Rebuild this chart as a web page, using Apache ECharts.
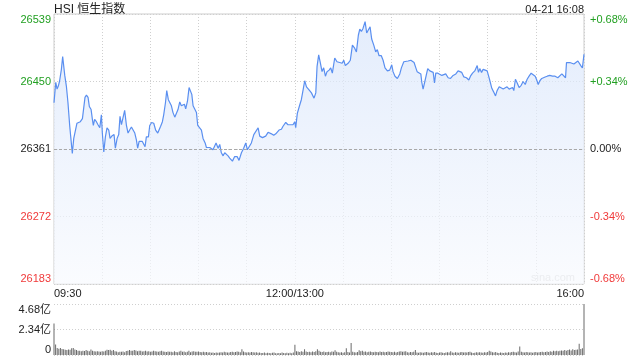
<!DOCTYPE html>
<html><head><meta charset="utf-8">
<script src="https://cdn.jsdelivr.net/npm/echarts@6/dist/echarts.min.js"></script>
<style>html,body{margin:0;padding:0;background:#fff}#c{width:640px;height:360px}</style>
</head><body><div id="c"></div>
<script>
const titleText = 'HSI 恒生指数';
const stampText = '04-21 16:08';
const watermark = 'sina.com';
const prevClose = 26361;
const priceTicks = [26183, 26272, 26361, 26450, 26539];
const pctTicks = ['-0.68%', '-0.34%', '0.00%', '+0.34%', '+0.68%'];
const volTicks = ['0', '2.34亿', '4.68亿'];
const timeTicks = {0: '09:30', 150: '12:00/13:00', 330: '16:00'};

// minutes since 09:30 (lunch break removed) and index level
const lineMin = [0.0,1.1,1.9,2.7,3.5,4.6,5.4,6.7,7.7,8.7,9.8,10.6,11.4,12.3,13.3,14.3,15.2,16.4,17.7,18.5,19.3,20.2,21.2,22.0,23.1,23.9,24.5,25.3,26.4,27.4,28.5,29.5,30.1,31.0,32.0,33.0,34.1,34.9,36.0,36.8,37.4,38.2,39.3,40.3,41.1,42.0,43.0,44.0,45.1,46.1,47.1,48.2,49.2,50.3,51.3,52.1,53.0,53.8,55.0,55.9,56.7,57.5,58.8,59.6,60.8,62.1,63.3,64.6,65.4,66.4,67.5,68.3,69.4,70.2,71.2,72.1,73.1,74.1,75.2,76.2,77.2,78.3,79.3,80.4,81.2,82.0,83.1,84.1,84.9,85.8,86.6,87.6,88.7,89.5,90.7,91.8,92.8,94.1,94.9,96.1,97.0,98.0,99.0,99.9,100.9,102.2,
103.2,104.2,105.3,106.3,107.4,108.4,109.4,111.1,112.5,114.0,115.2,116.7,118.1,119.4,120.4,121.5,122.9,124.4,125.6,127.1,128.1,129.8,131.8,133.3,134.3,135.4,136.8,138.1,138.9,140.1,141.6,142.6,144.3,145.7,147.2,148.8,149.9,150.5,151.5,153.0,154.0,155.1,156.1,157.2,158.8,160.3,161.9,163.0,163.8,164.8,165.9,166.9,167.9,169.0,170.0,171.3,172.3,173.3,174.8,176.2,177.9,179.4,180.4,181.4,183.1,184.5,185.8,187.2,188.3,189.5,190.4,191.4,192.4,193.7,194.7,195.7,196.8,197.8,199.1,200.3,201.3,202.4,203.8,204.9,206.1,207.6,209.0,210.3,211.1,212.3,213.8,
215.3,216.3,217.8,219.0,220.5,222.2,223.2,224.2,225.3,226.1,227.3,228.4,229.0,229.8,230.9,231.5,232.7,234.0,235.0,236.1,236.9,237.7,239.0,240.2,241.5,242.7,243.9,245.4,246.9,248.5,250.2,251.6,252.7,253.9,255.2,256.8,258.3,259.3,260.6,262.0,263.5,264.3,265.1,266.2,267.2,268.4,269.7,270.5,271.4,272.6,273.8,274.9,275.9,277.2,278.4,279.7,280.9,282.1,283.4,284.2,285.5,286.3,287.3,288.4,289.6,290.9,292.1,293.4,294.6,295.8,297.1,298.3,299.6,300.4,301.5,302.5,303.7,304.6,305.8,307.1,308.7,310.4,312.0,313.7,314.9,316.2,317.4,318.5,319.1,320.1,321.2,322.4,323.7,324.9,326.2,327.0,328.0,329.0,330.0];
const linePrice = [26422,26449,26440,26444,26451,26466,26483,26458,26444,26422,26391,26373,26355,26375,26373,26395,26397,26397,26401,26402,26429,26432,26429,26417,26413,26400,26392,26400,26397,26393,26389,26406,26382,26357,26377,26389,26386,26375,26378,26377,26380,26362,26375,26380,26404,26393,26393,26412,26392,26382,26386,26390,26389,26382,26373,26362,26371,26371,26371,26370,26364,26377,26377,26392,26396,26395,26386,26382,26382,26391,26397,26406,26422,26438,26426,26426,26418,26409,26403,26402,26413,26423,26418,26417,26420,26414,26424,26442,26440,26433,26418,26418,26409,26392,26391,26386,26375,26369,26363,26364,26363,26362,26360,26358,26369,26362,
26367,26356,26352,26356,26357,26352,26349,26345,26351,26351,26346,26356,26362,26369,26360,26360,26369,26380,26382,26389,26378,26376,26378,26383,26384,26381,26379,26381,26379,26386,26387,26391,26396,26393,26393,26393,26397,26389,26408,26419,26426,26439,26451,26443,26439,26435,26428,26435,26470,26485,26474,26463,26468,26457,26463,26465,26468,26461,26481,26476,26475,26474,26478,26471,26474,26478,26498,26494,26489,26511,26519,26516,26520,26529,26514,26518,26522,26506,26498,26489,26492,26484,26484,26478,26468,26464,26465,26472,26463,26457,26454,
26460,26468,26476,26478,26477,26478,26477,26475,26468,26463,26462,26460,26449,26440,26450,26451,26467,26464,26463,26462,26448,26461,26461,26462,26458,26457,26460,26455,26454,26458,26460,26464,26465,26462,26456,26455,26452,26457,26461,26464,26471,26462,26467,26462,26466,26467,26464,26458,26451,26441,26436,26431,26438,26443,26445,26440,26439,26443,26440,26438,26442,26438,26453,26448,26442,26445,26450,26446,26453,26457,26461,26460,26457,26453,26446,26451,26454,26453,26456,26457,26458,26457,26457,26455,26454,26460,26462,26455,26475,26476,26475,26477,26473,26475,26477,26475,26471,26468,26486];

// per-minute turnover, 亿
const volume = [
2.88,0.96,0.64,0.58,0.64,0.55,0.52,0.48,0.45,0.51,
0.48,0.62,0.64,0.51,0.45,0.38,0.40,0.35,0.38,0.36,
0.45,0.38,0.35,0.51,0.38,0.35,0.32,0.35,0.32,0.30,
0.35,0.32,0.38,0.48,0.45,0.48,0.40,0.45,0.35,0.32,
0.26,0.29,0.30,0.32,0.26,0.36,0.38,0.45,0.40,0.38,
0.45,0.42,0.35,0.40,0.38,0.32,0.35,0.38,0.32,0.35,
0.30,0.32,0.38,0.35,0.32,0.30,0.35,0.38,0.32,0.30,
0.28,0.32,0.30,0.29,0.26,0.35,0.28,0.26,0.32,0.38,
0.30,0.32,0.26,0.29,0.38,0.26,0.32,0.35,0.30,0.29,
0.32,0.28,0.26,0.29,0.26,0.28,0.22,0.25,0.20,0.23,
0.19,0.22,0.20,0.24,0.26,0.22,0.30,0.26,0.24,0.22,
0.28,0.30,0.26,0.28,0.32,0.30,0.26,0.53,0.32,0.26,
0.22,0.25,0.22,0.28,0.26,0.22,0.25,0.20,0.22,0.18,
0.19,0.22,0.16,0.20,0.18,0.15,0.20,0.22,0.17,0.16,
0.19,0.16,0.22,0.18,0.15,0.20,0.17,0.20,0.16,0.22,
0.94,0.35,0.32,0.28,0.35,0.30,0.53,0.32,0.28,0.30,
0.26,0.32,0.28,0.35,0.53,0.38,0.30,0.28,0.32,0.26,
0.28,0.30,0.26,0.32,0.30,0.44,0.30,0.26,0.22,0.25,
0.20,0.26,0.62,0.28,0.22,1.09,0.30,0.25,0.22,0.28,
0.44,0.35,0.38,0.30,0.32,0.26,0.30,0.32,0.28,0.26,
0.30,0.28,0.26,0.32,0.28,0.30,0.26,0.28,0.32,0.30,
0.28,0.26,0.30,0.22,0.28,0.32,0.35,0.30,0.32,0.35,
0.25,0.22,0.28,0.25,0.30,0.47,0.22,0.20,0.25,0.22,
0.20,0.25,0.28,0.22,0.20,0.25,0.22,0.28,0.20,0.18,
0.22,0.25,0.20,0.18,0.22,0.26,0.22,0.35,0.22,0.20,
0.25,0.22,0.20,0.25,0.28,0.22,0.25,0.22,0.28,0.30,
0.22,0.18,0.20,0.25,0.22,0.26,0.22,0.20,0.25,0.22,
0.28,0.40,0.32,0.25,0.22,0.28,0.20,0.18,0.22,0.20,
0.18,0.22,0.20,0.25,0.22,0.28,0.30,0.25,0.22,0.32,
0.78,0.30,0.25,0.22,0.28,0.25,0.22,0.26,0.20,0.25,
0.28,0.22,0.25,0.28,0.30,0.25,0.28,0.32,0.28,0.35,
0.30,0.38,0.35,0.40,0.35,0.38,0.42,0.40,0.47,0.38,
0.45,0.50,0.42,0.53,0.45,0.48,0.50,1.03,0.56,0.62,
4.68];

const FONT = 'Arial, "Liberation Sans", "Noto Sans CJK SC", sans-serif';
const range = priceTicks[4] - prevClose;   // 178
const step = priceTicks[3] - prevClose;    // 89
const green = '#22a022', red = '#f03a3a', dark = '#222';
function sideColor(v) { return v > 0.001 ? green : (v < -0.001 ? red : dark); }

const lineData = lineMin.map((m, i) => [m, linePrice[i] - prevClose]);
const volData = volume.map((v, i) => [i, v]);

const chart = echarts.init(document.getElementById('c'), null, {renderer: 'canvas'});
chart.setOption({
  animation: false,
  backgroundColor: '#fff',
  textStyle: {fontFamily: FONT},
  title: [
    {text: titleText, left: 54, top: 4, padding: 0,
     textStyle: {fontSize: 12, fontWeight: 'normal', color: dark, fontFamily: FONT}},
    {text: stampText, right: 56, top: 4, padding: 0,
     textStyle: {fontSize: 11, fontWeight: 'normal', color: dark, fontFamily: FONT}}
  ],
  graphic: [{type: 'text', left: 531, top: 272, silent: true,
    style: {text: watermark, fill: '#cfcfcf', font: '11px ' + FONT}}],
  grid: [
    {left: 54, right: 56, top: 14, height: 270, show: true, borderColor: '#cccccc', borderWidth: 1, backgroundColor: 'transparent'},
    {left: 54, right: 56, top: 304, height: 51}
  ],
  xAxis: [
    {type: 'value', gridIndex: 0, min: 0, max: 330, interval: 30,
     axisLine: {show: false}, axisTick: {show: false},
     splitLine: {show: true, lineStyle: {color: '#cfcfcf', type: [1, 2], width: 1}},
     axisLabel: {fontSize: 11, color: dark, margin: 4, fontFamily: FONT,
       alignMinLabel: 'left', alignMaxLabel: 'right',
       formatter: v => timeTicks[Math.round(v)] || ''}},
    {type: 'value', gridIndex: 1, min: 0, max: 330, show: false}
  ],
  yAxis: [
    {type: 'value', gridIndex: 0, min: -range, max: range, interval: step,
     axisLine: {show: false}, axisTick: {show: false},
     splitLine: {show: true, lineStyle: {color: '#cfcfcf', type: [1, 2], width: 1}},
     axisLabel: {fontSize: 11, margin: 3, fontFamily: FONT,
       verticalAlignMinLabel: 'bottom', verticalAlignMaxLabel: 'top',
       color: v => sideColor(v),
       formatter: v => String(priceTicks[Math.round((v + range) / step)])}},
    {type: 'value', gridIndex: 0, position: 'right', min: -range, max: range, interval: step,
     axisLine: {show: false}, axisTick: {show: false}, splitLine: {show: false},
     axisLabel: {fontSize: 11, margin: 6, fontFamily: FONT,
       verticalAlignMinLabel: 'bottom', verticalAlignMaxLabel: 'top',
       color: v => sideColor(v),
       formatter: v => pctTicks[Math.round((v + range) / step)]}},
    {type: 'value', gridIndex: 1, min: 0, max: 4.68, interval: 2.34,
     axisLine: {show: false}, axisTick: {show: false},
     splitLine: {show: true, lineStyle: {color: '#cfcfcf', type: [1, 2], width: 1}},
     axisLabel: {fontSize: 11, margin: 3, color: dark, fontFamily: FONT,
       verticalAlignMinLabel: 'bottom', verticalAlignMaxLabel: 'top',
       formatter: v => volTicks[Math.round(v / 2.34)]}}
  ],
  series: [
    {type: 'line', xAxisIndex: 0, yAxisIndex: 0, data: lineData,
     showSymbol: false, symbol: 'none', silent: true,
     lineStyle: {color: '#5a8ff0', width: 1.2},
     areaStyle: {origin: 'start', color: new echarts.graphic.LinearGradient(0, 0, 0, 1, [
       {offset: 0, color: '#d8e5fb'}, {offset: 1, color: '#f8fafe'}])},
     markLine: {silent: true, symbol: 'none', animation: false, label: {show: false},
       lineStyle: {color: '#a8a8a8', type: [3, 2], width: 1},
       data: [{yAxis: 0}]}},
    {type: 'bar', xAxisIndex: 1, yAxisIndex: 2, data: volData, barWidth: 1,
     clip: false, silent: true, itemStyle: {color: '#6a6a6a'}}
  ]
});
</script>
</body></html>
